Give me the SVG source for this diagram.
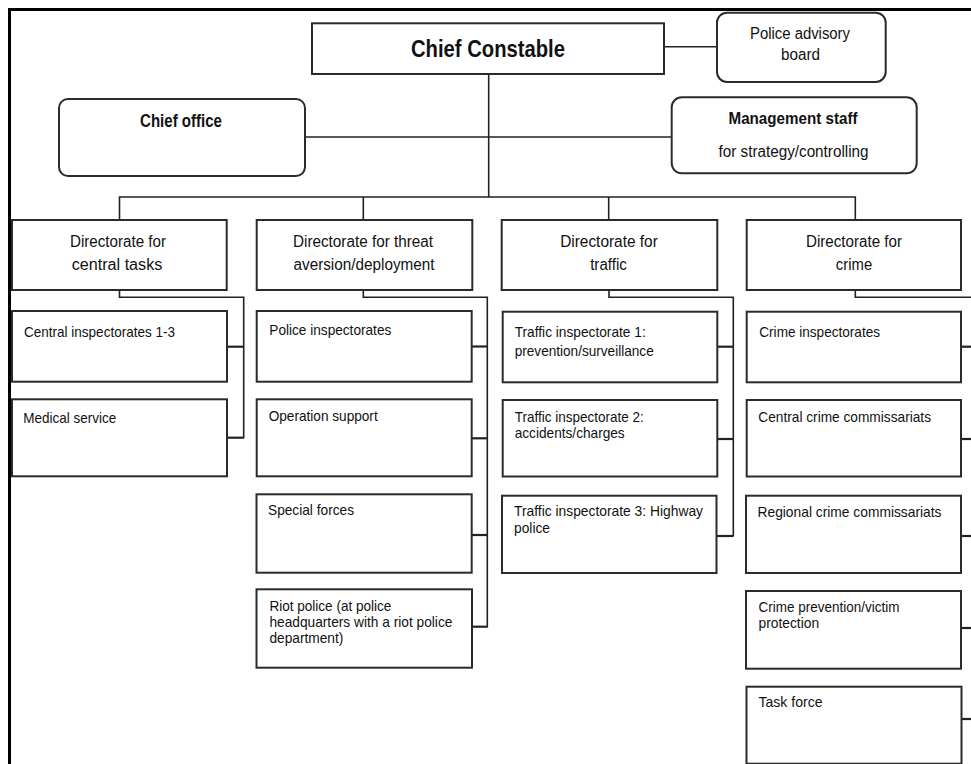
<svg xmlns="http://www.w3.org/2000/svg" width="971" height="764" viewBox="0 0 971 764">
<style>
.box{fill:#fff;stroke:#2b2b2b;stroke-width:2}
.ln{fill:none;stroke:#222;stroke-width:1.6}
.st{fill:none;stroke:#222;stroke-width:2.2}
text{font-family:"Liberation Sans",Arial,sans-serif;fill:#111}
.c{text-anchor:middle}
.b{font-weight:bold}
.t15{font-size:15px}
.t16{font-size:16px}
</style>
<rect x="0" y="0" width="971" height="764" fill="#fff"/>
<g id="frame">
<line x1="8" y1="9.5" x2="971" y2="9.5" stroke="#000" stroke-width="3"/>
<line x1="9.5" y1="8" x2="9.5" y2="764" stroke="#000" stroke-width="3"/>
</g>
<g id="connectors">
<line class="ln" x1="664" y1="46.7" x2="717" y2="46.7"/>
<line class="ln" x1="488.7" y1="74" x2="488.7" y2="197"/>
<line class="ln" x1="305" y1="137" x2="672" y2="137"/>
<polyline class="ln" points="119.5,220 119.5,197 855.3,197 855.3,220"/>
<line class="ln" x1="363.3" y1="197" x2="363.3" y2="220"/>
<line class="ln" x1="608.7" y1="197" x2="608.7" y2="220"/>
<polyline class="ln" points="119.5,290 119.5,297.3 243.7,297.3 243.7,438.3"/>
<line class="st" x1="227" y1="346.7" x2="243.7" y2="346.7"/>
<line class="st" x1="227" y1="437.7" x2="243.7" y2="437.7"/>
<polyline class="ln" points="363.3,290 363.3,297.3 487.3,297.3 487.3,627.5"/>
<line class="st" x1="472" y1="346.5" x2="487.3" y2="346.5"/>
<line class="st" x1="472" y1="438.3" x2="487.3" y2="438.3"/>
<line class="st" x1="472" y1="535" x2="487.3" y2="535"/>
<line class="st" x1="472" y1="626.7" x2="487.3" y2="626.7"/>
<polyline class="ln" points="609,290 609,297.3 733.3,297.3 733.3,536.5"/>
<line class="st" x1="717" y1="346.7" x2="733.3" y2="346.7"/>
<line class="st" x1="717" y1="439" x2="733.3" y2="439"/>
<line class="st" x1="717" y1="536" x2="733.3" y2="536"/>
<polyline class="ln" points="855.3,290 855.3,297.3 971,297.3"/>
<line class="st" x1="961" y1="346.7" x2="971" y2="346.7"/>
<line class="st" x1="961" y1="439" x2="971" y2="439"/>
<line class="st" x1="961" y1="536" x2="971" y2="536"/>
<line class="st" x1="961" y1="628" x2="971" y2="628"/>
<line class="st" x1="961" y1="719" x2="971" y2="719"/>
</g>
<g id="chief-constable">
<rect class="box" x="312" y="23.3" width="352" height="50.7"/>
<text class="c b" x="488" y="57.3" font-size="24" textLength="154" lengthAdjust="spacingAndGlyphs">Chief Constable</text>
</g>
<g id="police-advisory-board">
<rect class="box" x="717" y="12.7" width="168.7" height="69.3" rx="10"/>
<text class="c t16" x="800" y="39" textLength="100" lengthAdjust="spacingAndGlyphs">Police advisory</text>
<text class="c t16" x="800.5" y="60" textLength="39" lengthAdjust="spacingAndGlyphs">board</text>
</g>
<g id="chief-office">
<rect class="box" x="59" y="99" width="246" height="77" rx="9"/>
<text class="c b" x="181" y="127" font-size="18" textLength="82" lengthAdjust="spacingAndGlyphs">Chief office</text>
</g>
<g id="management-staff">
<rect class="box" x="671.7" y="97.3" width="245" height="76" rx="10"/>
<text class="c b" x="793" y="124" font-size="17" textLength="129" lengthAdjust="spacingAndGlyphs">Management staff</text>
<text class="c t16" x="793.5" y="157" textLength="150" lengthAdjust="spacingAndGlyphs">for strategy/controlling</text>
</g>
<g id="dir-central">
<rect class="box" x="12" y="220" width="214.7" height="70"/>
<text class="c t16" x="118" y="246.7" textLength="96" lengthAdjust="spacingAndGlyphs">Directorate for</text>
<text class="c t16" x="117" y="270" textLength="90.7" lengthAdjust="spacingAndGlyphs">central tasks</text>
</g>
<g id="dir-threat">
<rect class="box" x="256.7" y="220" width="215.6" height="70"/>
<text class="c t16" x="363" y="246.7" textLength="140" lengthAdjust="spacingAndGlyphs">Directorate for threat</text>
<text class="c t16" x="364" y="270" textLength="141" lengthAdjust="spacingAndGlyphs">aversion/deployment</text>
</g>
<g id="dir-traffic">
<rect class="box" x="501.7" y="220" width="215.6" height="70"/>
<text class="c t16" x="609" y="246.7" textLength="97.7" lengthAdjust="spacingAndGlyphs">Directorate for</text>
<text class="c t16" x="608.5" y="270" textLength="36.7" lengthAdjust="spacingAndGlyphs">traffic</text>
</g>
<g id="dir-crime">
<rect class="box" x="746.7" y="220" width="214.3" height="70"/>
<text class="c t16" x="854" y="246.7" textLength="96" lengthAdjust="spacingAndGlyphs">Directorate for</text>
<text class="c t16" x="854" y="270" textLength="36.3" lengthAdjust="spacingAndGlyphs">crime</text>
</g>
<g id="central-inspectorates">
<rect class="box" x="12" y="311" width="215" height="70.7"/>
<text class="t15" x="24" y="336.7" textLength="151" lengthAdjust="spacingAndGlyphs">Central inspectorates 1-3</text>
</g>
<g id="medical-service">
<rect class="box" x="12" y="399.3" width="215" height="77"/>
<text class="t15" x="23.3" y="423.3" textLength="93" lengthAdjust="spacingAndGlyphs">Medical service</text>
</g>
<g id="police-inspectorates">
<rect class="box" x="256.7" y="311" width="215" height="70.7"/>
<text class="t15" x="269.3" y="335" textLength="122" lengthAdjust="spacingAndGlyphs">Police inspectorates</text>
</g>
<g id="operation-support">
<rect class="box" x="256.7" y="399.3" width="215" height="77"/>
<text class="t15" x="268.7" y="420.7" textLength="109" lengthAdjust="spacingAndGlyphs">Operation support</text>
</g>
<g id="special-forces">
<rect class="box" x="256.5" y="494.3" width="215.2" height="78.4"/>
<text class="t15" x="268" y="515" textLength="86" lengthAdjust="spacingAndGlyphs">Special forces</text>
</g>
<g id="riot-police">
<rect class="box" x="256.5" y="589.3" width="215.5" height="78.4"/>
<text class="t15" x="269.4" y="610.7" textLength="122" lengthAdjust="spacingAndGlyphs">Riot police (at police</text>
<text class="t15" x="269.4" y="626.7" textLength="183" lengthAdjust="spacingAndGlyphs">headquarters with a riot police</text>
<text class="t15" x="269.4" y="643.3" textLength="74" lengthAdjust="spacingAndGlyphs">department)</text>
</g>
<g id="traffic-1">
<rect class="box" x="502.7" y="311.7" width="214.6" height="70.6"/>
<text class="t15" x="514.7" y="337.3" textLength="131" lengthAdjust="spacingAndGlyphs">Traffic inspectorate 1:</text>
<text class="t15" x="514.7" y="356" textLength="139" lengthAdjust="spacingAndGlyphs">prevention/surveillance</text>
</g>
<g id="traffic-2">
<rect class="box" x="502.7" y="400" width="214.6" height="76.5"/>
<text class="t15" x="514.7" y="421.7" textLength="129" lengthAdjust="spacingAndGlyphs">Traffic inspectorate 2:</text>
<text class="t15" x="514.7" y="438.3" textLength="110" lengthAdjust="spacingAndGlyphs">accidents/charges</text>
</g>
<g id="traffic-3">
<rect class="box" x="502" y="495.7" width="214.5" height="77.3"/>
<text class="t15" x="514" y="516" textLength="189" lengthAdjust="spacingAndGlyphs">Traffic inspectorate 3: Highway</text>
<text class="t15" x="514" y="532.7" textLength="36" lengthAdjust="spacingAndGlyphs">police</text>
</g>
<g id="crime-inspectorates">
<rect class="box" x="746.7" y="311.7" width="214.3" height="70.6"/>
<text class="t15" x="759.3" y="336.7" textLength="120.7" lengthAdjust="spacingAndGlyphs">Crime inspectorates</text>
</g>
<g id="central-crime">
<rect class="box" x="746.7" y="400" width="214.3" height="76.5"/>
<text class="t15" x="758.3" y="421.7" textLength="172.7" lengthAdjust="spacingAndGlyphs">Central crime commissariats</text>
</g>
<g id="regional-crime">
<rect class="box" x="746" y="495.7" width="215" height="77.3"/>
<text class="t15" x="757.5" y="517.3" textLength="184" lengthAdjust="spacingAndGlyphs">Regional crime commissariats</text>
</g>
<g id="crime-prevention">
<rect class="box" x="746" y="591" width="215" height="77.7"/>
<text class="t15" x="758.5" y="612.3" textLength="141" lengthAdjust="spacingAndGlyphs">Crime prevention/victim</text>
<text class="t15" x="758.5" y="628.3" textLength="60.6" lengthAdjust="spacingAndGlyphs">protection</text>
</g>
<g id="task-force">
<rect class="box" x="746.5" y="686.7" width="215" height="77"/>
<text class="t15" x="758.5" y="707.3" textLength="64" lengthAdjust="spacingAndGlyphs">Task force</text>
</g>
</svg>
